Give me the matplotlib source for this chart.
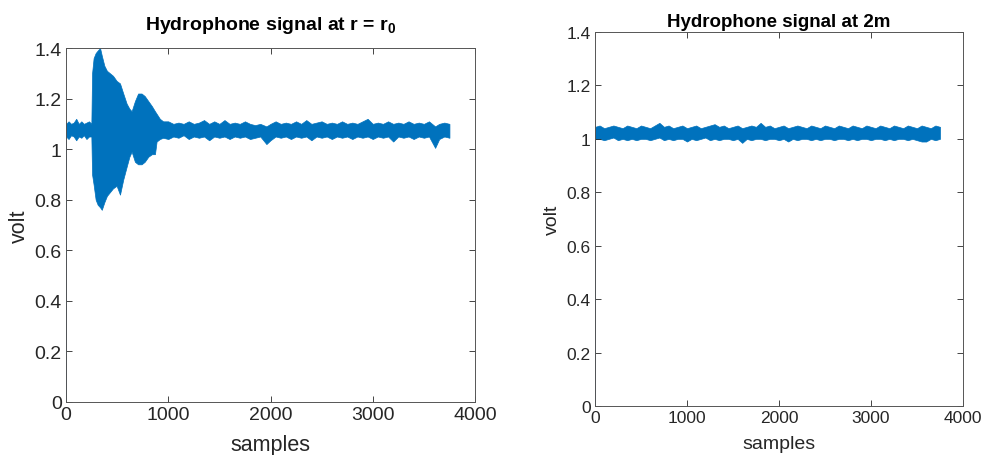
import matplotlib
matplotlib.use("Agg")
import matplotlib.pyplot as plt
from matplotlib.ticker import FixedLocator, FixedFormatter

plt.rcParams['font.family'] = ['Liberation Sans', 'DejaVu Sans']
plt.rcParams['mathtext.fontset'] = 'custom'
plt.rcParams['mathtext.rm'] = 'Liberation Sans'
plt.rcParams['mathtext.bf'] = 'Liberation Sans:bold'

# ---------------- data (envelopes) ----------------
left_samples = [0, 1, 25, 50, 75, 100, 125, 150, 175, 200, 225, 248, 255, 270, 290, 310,
                333, 350, 375, 400, 430, 460, 495, 528, 560, 593, 620, 642, 674, 705,
                739, 770, 805, 840, 870, 886, 918, 950,
                1000, 1050, 1100, 1150, 1200, 1250, 1300, 1350, 1400, 1450, 1500, 1550,
                1600, 1650, 1700, 1750, 1800, 1850, 1900, 1960, 2000, 2050, 2100, 2150,
                2200, 2250, 2300, 2350, 2400, 2450, 2500, 2550, 2600, 2650, 2700, 2750,
                2800, 2850, 2900, 2950, 3000, 3050, 3100, 3150, 3200, 3250, 3300, 3350,
                3400, 3450, 3500, 3550, 3610, 3650, 3700, 3750]
left_upper = [0.0, 1.10, 1.11, 1.10, 1.105, 1.12, 1.10, 1.11, 1.10, 1.105, 1.11, 1.10, 1.30, 1.36, 1.38, 1.39,
              1.40, 1.37, 1.33, 1.31, 1.30, 1.29, 1.27, 1.26, 1.22, 1.18, 1.16, 1.15, 1.19, 1.22,
              1.22, 1.21, 1.19, 1.17, 1.15, 1.14, 1.12, 1.11,
              1.11, 1.10, 1.105, 1.10, 1.11, 1.10, 1.105, 1.115, 1.10, 1.11, 1.10, 1.115,
              1.10, 1.105, 1.10, 1.11, 1.10, 1.095, 1.10, 1.09, 1.10, 1.11, 1.10, 1.105,
              1.10, 1.11, 1.10, 1.115, 1.10, 1.105, 1.11, 1.10, 1.105, 1.10, 1.11, 1.10,
              1.105, 1.10, 1.11, 1.12, 1.10, 1.105, 1.10, 1.11, 1.10, 1.105, 1.10, 1.11,
              1.10, 1.105, 1.10, 1.11, 1.09, 1.10, 1.105, 1.10]
left_lower = [0.0, 1.05, 1.04, 1.055, 1.05, 1.035, 1.05, 1.045, 1.055, 1.04, 1.05, 1.05, 0.90, 0.86, 0.80, 0.78,
              0.77, 0.76, 0.79, 0.815, 0.83, 0.845, 0.855, 0.82, 0.88, 0.93, 0.97, 0.99, 0.95, 0.94,
              0.94, 0.95, 0.97, 0.98, 0.98, 1.03, 1.04, 1.045,
              1.04, 1.05, 1.045, 1.055, 1.04, 1.05, 1.045, 1.05, 1.035, 1.05, 1.045, 1.05,
              1.04, 1.05, 1.045, 1.05, 1.04, 1.045, 1.05, 1.02, 1.035, 1.05, 1.045, 1.05,
              1.04, 1.05, 1.045, 1.05, 1.035, 1.05, 1.045, 1.05, 1.04, 1.05, 1.045, 1.05,
              1.04, 1.05, 1.045, 1.05, 1.04, 1.05, 1.045, 1.05, 1.03, 1.05, 1.045, 1.05,
              1.04, 1.05, 1.045, 1.05, 1.005, 1.04, 1.05, 1.045]

right_samples = [0, 1, 50, 100, 150, 200, 250, 300, 350, 400, 450, 500, 550, 600, 650, 700,
                 750, 800, 850, 900, 950, 1000, 1050, 1100, 1150, 1200, 1250, 1300, 1350,
                 1400, 1450, 1500, 1550, 1600, 1650, 1700, 1750, 1800, 1850, 1900, 1950,
                 2000, 2050, 2100, 2150, 2200, 2250, 2300, 2350, 2400, 2450, 2500, 2550,
                 2600, 2650, 2700, 2750, 2800, 2850, 2900, 2950, 3000, 3050, 3100, 3150,
                 3200, 3250, 3300, 3350, 3400, 3450, 3500, 3550, 3600, 3650, 3700, 3750]
right_upper = [0.0, 1.045, 1.05, 1.04, 1.045, 1.05, 1.045, 1.04, 1.05, 1.045, 1.04, 1.05, 1.045,
               1.04, 1.05, 1.06, 1.045, 1.05, 1.04, 1.045, 1.05, 1.04, 1.045, 1.05, 1.04,
               1.045, 1.05, 1.055, 1.045, 1.05, 1.04, 1.045, 1.05, 1.04, 1.045, 1.05, 1.045,
               1.06, 1.045, 1.05, 1.04, 1.045, 1.05, 1.04, 1.045, 1.05, 1.045, 1.04, 1.05,
               1.045, 1.04, 1.05, 1.045, 1.04, 1.05, 1.045, 1.04, 1.05, 1.045, 1.04, 1.05,
               1.045, 1.04, 1.05, 1.045, 1.04, 1.05, 1.045, 1.04, 1.05, 1.045, 1.04, 1.05,
               1.045, 1.04, 1.05, 1.045]
right_lower = [0.0, 1.00, 1.0, 0.995, 1.0, 1.005, 0.995, 1.0, 0.995, 1.0, 0.995, 1.0, 1.0,
               0.995, 1.0, 1.005, 0.995, 1.0, 0.995, 1.0, 1.0, 0.99, 1.0, 0.995, 1.0,
               1.005, 0.995, 1.0, 0.995, 1.0, 1.0, 0.995, 1.0, 0.985, 1.0, 0.995, 1.0,
               1.0, 0.995, 1.0, 1.0, 0.995, 1.0, 0.99, 1.0, 0.995, 1.0, 1.0, 0.995,
               1.0, 0.995, 1.0, 1.0, 0.995, 1.0, 1.0, 0.995, 1.0, 0.995, 1.0, 1.0,
               0.995, 1.0, 1.0, 0.995, 1.0, 0.995, 1.0, 1.0, 0.995, 1.0, 0.995, 0.99,
               0.99, 1.0, 0.995, 1.0]

x_ticks = [0, 1000, 2000, 3000, 4000]
x_tick_labels = ['0', '1000', '2000', '3000', '4000']
y_ticks = [0, 0.2, 0.4, 0.6, 0.8, 1.0, 1.2, 1.4]
y_tick_labels = ['0', '0.2', '0.4', '0.6', '0.8', '1', '1.2', '1.4']

titles = [r'Hydrophone signal at r = r$_\mathbf{0}$', 'Hydrophone signal at 2m']

# ---------------- figure ----------------
COLOR = '#0072BD'
fig = plt.figure(figsize=(9.84, 4.56), dpi=100)
axL = fig.add_axes([66/984, 1 - 403/456, 409/984, 354/456])
axR = fig.add_axes([595/984, 1 - 407/456, 368/984, 374/456])


def style(ax, tick_fs, lab_fs, title, title_fs, pad, ylpad, xlpad):
    ax.set_xlim(0, 4000)
    ax.set_ylim(0, 1.4)
    ax.xaxis.set_major_locator(FixedLocator(x_ticks))
    ax.xaxis.set_major_formatter(FixedFormatter(x_tick_labels))
    ax.yaxis.set_major_locator(FixedLocator(y_ticks))
    ax.yaxis.set_major_formatter(FixedFormatter(y_tick_labels))
    ax.tick_params(direction='in', top=True, right=True, length=4, width=0.6,
                   color='#262626', labelcolor='#262626', labelsize=tick_fs)
    ax.tick_params(axis='x', pad=3)
    ax.tick_params(axis='y', pad=3)
    for s in ax.spines.values():
        s.set_color('#555555')
        s.set_linewidth(0.7)
    ax.set_xlabel('samples', fontsize=lab_fs, color='#262626', labelpad=xlpad)
    ax.set_ylabel('volt', fontsize=lab_fs, color='#262626', labelpad=ylpad)
    ax.set_title(title, fontsize=title_fs, fontweight='bold', pad=pad)


axL.fill_between(left_samples, left_lower, left_upper, color=COLOR, linewidth=0.5, edgecolor=COLOR)
axL.plot(left_samples[:2], left_upper[:2], color=COLOR, linewidth=1.0)
axR.fill_between(right_samples, right_lower, right_upper, color=COLOR, linewidth=0.5, edgecolor=COLOR)
axR.plot(right_samples[:2], right_upper[:2], color=COLOR, linewidth=1.0)

style(axL, 14, 15.5, titles[0], 14, 14, 3, 8)
style(axR, 12.5, 14, titles[1], 13.5, 4, 4, 7)

fig.savefig('out.png', dpi=100)
